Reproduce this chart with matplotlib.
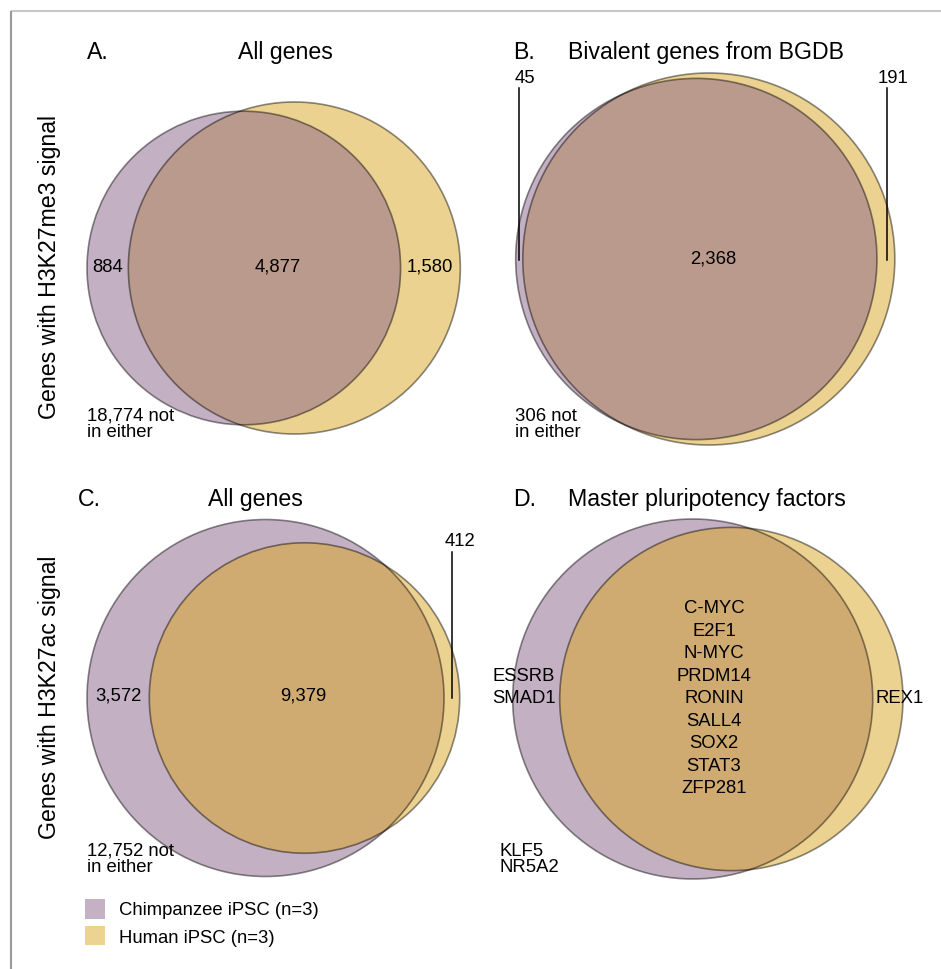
import math
import matplotlib
matplotlib.use("Agg")
import matplotlib.pyplot as plt
from matplotlib.patches import Circle, Rectangle

# ---------------- data ----------------
panel_letters = ["A.", "B.", "C.", "D."]
panel_titles = ["All genes", "Bivalent genes from BGDB", "All genes", "Master pluripotency factors"]
row_labels = ["Genes with H3K27me3 signal", "Genes with H3K27ac signal"]

chimp_only = [884, 45, 3572]
human_only = [1580, 191, 412]
both = [4877, 2368, 9379]
neither = [18774, 306, 12752]

d_chimp_only = ["ESSRB", "SMAD1"]
d_human_only = ["REX1"]
d_both = ["C-MYC", "E2F1", "N-MYC", "PRDM14", "RONIN", "SALL4", "SOX2", "STAT3", "ZFP281"]
d_neither = ["KLF5", "NR5A2"]

legend_labels = ["Chimpanzee iPSC (n=3)", "Human iPSC (n=3)"]

# ---------------- style ----------------
FONT = "Liberation Sans"
TS = 16.7   # title size
LS = 13.3   # label size
chimp_face = (137/255, 99/255, 137/255)
human_face = (219/255, 167/255, 35/255)
chimp_solid = (196/255, 177/255, 196/255)
human_solid = (237/255, 211/255, 145/255)
edge = (0, 0, 0, 0.45)

fig = plt.figure(figsize=(9.41, 9.69), dpi=100)
ax = fig.add_axes([0, 0, 1, 1])
ax.set_xlim(0, 941)
ax.set_ylim(969, 0)
ax.axis("off")

# frame
ax.plot([11, 941], [11, 11], color="#c8c8c8", lw=1.5, solid_capstyle="butt")
ax.plot([11, 11], [11, 969], color="#999999", lw=1.5, solid_capstyle="butt")


def lens_area(r1, r2, d):
    if d >= r1 + r2:
        return 0.0
    if d <= abs(r1 - r2):
        return math.pi * min(r1, r2) ** 2
    a1 = r1 ** 2 * math.acos((d * d + r1 * r1 - r2 * r2) / (2 * d * r1))
    a2 = r2 ** 2 * math.acos((d * d + r2 * r2 - r1 * r1) / (2 * d * r2))
    a3 = 0.5 * math.sqrt((-d + r1 + r2) * (d + r1 - r2) * (d - r1 + r2) * (d + r1 + r2))
    return a1 + a2 - a3


def venn(n_c, n_h, n_b, big_r, left, cy):
    tc, th = n_c + n_b, n_h + n_b
    k = big_r / math.sqrt(max(tc, th))
    rc, rh = k * math.sqrt(tc), k * math.sqrt(th)
    target = math.pi * k * k * n_b
    lo, hi = abs(rc - rh) + 1e-9, rc + rh
    for _ in range(100):
        mid = 0.5 * (lo + hi)
        if lens_area(rc, rh, mid) > target:
            lo = mid
        else:
            hi = mid
    d = 0.5 * (lo + hi)
    cxc = left + rc
    cxh = cxc + d
    circles = [(cxc, rc, chimp_face), (cxh, rh, human_face)]
    circles.sort(key=lambda c: -c[1])  # larger first
    for cx, r, fc in circles:
        ax.add_patch(Circle((cx, cy), r, facecolor=fc, alpha=0.5, edgecolor="none"))
    for cx, r, fc in circles:
        ax.add_patch(Circle((cx, cy), r, fill=False, edgecolor=edge, lw=1.2))


def txt(x, y, s, size=LS, ha="center", **kw):
    ax.text(x, y, s, fontsize=size, ha=ha, va="baseline", family=FONT, color="black", **kw)


# panel geometry (layout)
venn(chimp_only[0], human_only[0], both[0], 166, 87, 268)
venn(chimp_only[1], human_only[1], both[1], 186, 515.7, 259)
venn(chimp_only[2], human_only[2], both[2], 178.5, 87, 698)
venn(len(d_chimp_only), len(d_human_only), len(d_both), 180, 512.7, 699)

# titles
txt(86.7, 59, panel_letters[0], TS, ha="left")
txt(285.5, 59, panel_titles[0], TS)
txt(513.3, 59, panel_letters[1], TS, ha="left")
txt(568.3, 59, panel_titles[1], TS, ha="left")
txt(77.7, 505.7, panel_letters[2], TS, ha="left")
txt(255.5, 505.7, panel_titles[2], TS)
txt(513.3, 505.7, panel_letters[3], TS, ha="left")
txt(568.3, 505.7, panel_titles[3], TS, ha="left")

# row labels
ax.text(50, 267, row_labels[0], fontsize=TS, rotation=90, ha="center", va="center", family=FONT)
ax.text(50, 697.5, row_labels[1], fontsize=TS, rotation=90, ha="center", va="center", family=FONT)

# panel A labels
txt(108, 271.7, f"{chimp_only[0]:,}")
txt(278, 271.7, f"{both[0]:,}")
txt(430, 271.7, f"{human_only[0]:,}")
txt(87, 420.7, f"{neither[0]:,} not", ha="left")
txt(87, 436.7, "in either", ha="left")

# panel B labels
txt(525, 82.7, f"{chimp_only[1]:,}")
txt(892.7, 82.7, f"{human_only[1]:,}")
ax.plot([519.3, 519.3], [88, 260], color="black", lw=1.1)
ax.plot([886.7, 886.7], [88, 260], color="black", lw=1.1)
txt(713.3, 263.3, f"{both[1]:,}")
txt(515, 420.7, f"{neither[1]:,} not", ha="left")
txt(515, 436.7, "in either", ha="left")

# panel C labels
txt(118, 700.7, f"{chimp_only[2]:,}")
txt(303, 700.7, f"{both[2]:,}")
txt(460, 546, f"{human_only[2]:,}")
ax.plot([452.3, 452.3], [551.7, 698], color="black", lw=1.1)
txt(87, 856, f"{neither[2]:,} not", ha="left")
txt(87, 871.7, "in either", ha="left")

# panel D labels
for i, g in enumerate(d_both):
    txt(714, 613.3 + i * 22.5, g)
for i, g in enumerate(d_chimp_only):
    txt(524, 680.7 + i * 22.3, g)
for i, g in enumerate(d_human_only):
    txt(900, 703, g)
for i, g in enumerate(d_neither):
    txt(499.3, 856 + i * 15.7, g, ha="left")

# legend
ax.add_patch(Rectangle((85, 899.3), 20, 19.4, facecolor=chimp_solid, edgecolor="none"))
ax.add_patch(Rectangle((85, 926), 20, 19.4, facecolor=human_solid, edgecolor="none"))
txt(119.3, 915, legend_labels[0], ha="left")
txt(119.3, 943, legend_labels[1], ha="left")

fig.savefig("out.png", dpi=100)
